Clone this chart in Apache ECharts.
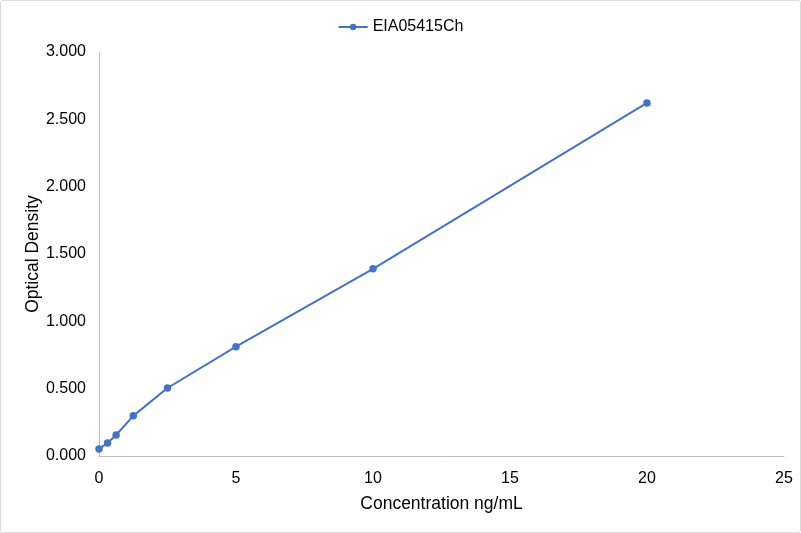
<!DOCTYPE html>
<html><head><meta charset="utf-8">
<script src="https://cdn.jsdelivr.net/npm/echarts@6/dist/echarts.min.js"></script>
<style>html,body{margin:0;padding:0;background:#fff;}#c{width:801px;height:533px;box-sizing:border-box;border:1px solid #d9d9d9;border-radius:3px;}</style>
</head><body><div id="c"></div>
<script>
var seriesName = 'EIA05415Ch';
var concentrations = [0, 0.3125, 0.625, 1.25, 2.5, 5, 10, 20];
var odValues = [0.052, 0.097, 0.156, 0.298, 0.505, 0.812, 1.390, 2.622];
var chart = echarts.init(document.getElementById('c'));
var font = 'Liberation Sans, Arial, sans-serif';
chart.setOption({
  animation: false,
  textStyle: {fontFamily: font},
  legend: {top: 13, left: 'center', itemWidth: 29, itemHeight: 8,
    textStyle: {fontSize: 16, color: '#000', fontFamily: font},
    data: [seriesName]},
  grid: {left: 98, right: 16, top: 51, bottom: 76},
  xAxis: {type: 'value', min: 0, max: 25, interval: 5,
    name: 'Concentration ng/mL', nameLocation: 'middle', nameGap: 39,
    nameMoveOverlap: false,
    nameTextStyle: {fontSize: 17.5, color: '#000', fontFamily: font},
    axisLine: {lineStyle: {color: '#bfbfbf'}}, axisTick: {show: false},
    axisLabel: {fontSize: 16, color: '#000', margin: 15, fontFamily: font},
    splitLine: {show: false}},
  yAxis: {type: 'value', min: 0, max: 3, interval: 0.5,
    name: 'Optical Density', nameLocation: 'middle', nameGap: 57,
    nameMoveOverlap: false,
    nameTextStyle: {fontSize: 17.5, color: '#000', fontFamily: font},
    axisLine: {show: true, lineStyle: {color: '#bfbfbf'}}, axisTick: {show: false},
    axisLabel: {fontSize: 16, color: '#000', margin: 13, fontFamily: font,
      formatter: function(v){return v.toFixed(3);}},
    splitLine: {show: false}},
  series: [{name: seriesName, type: 'line',
    data: concentrations.map(function(x,i){return [x, odValues[i]];}),
    symbol: 'circle', symbolSize: 7.5,
    lineStyle: {color: '#4472C4', width: 2},
    itemStyle: {color: '#4472C4'}}]
});
</script></body></html>
